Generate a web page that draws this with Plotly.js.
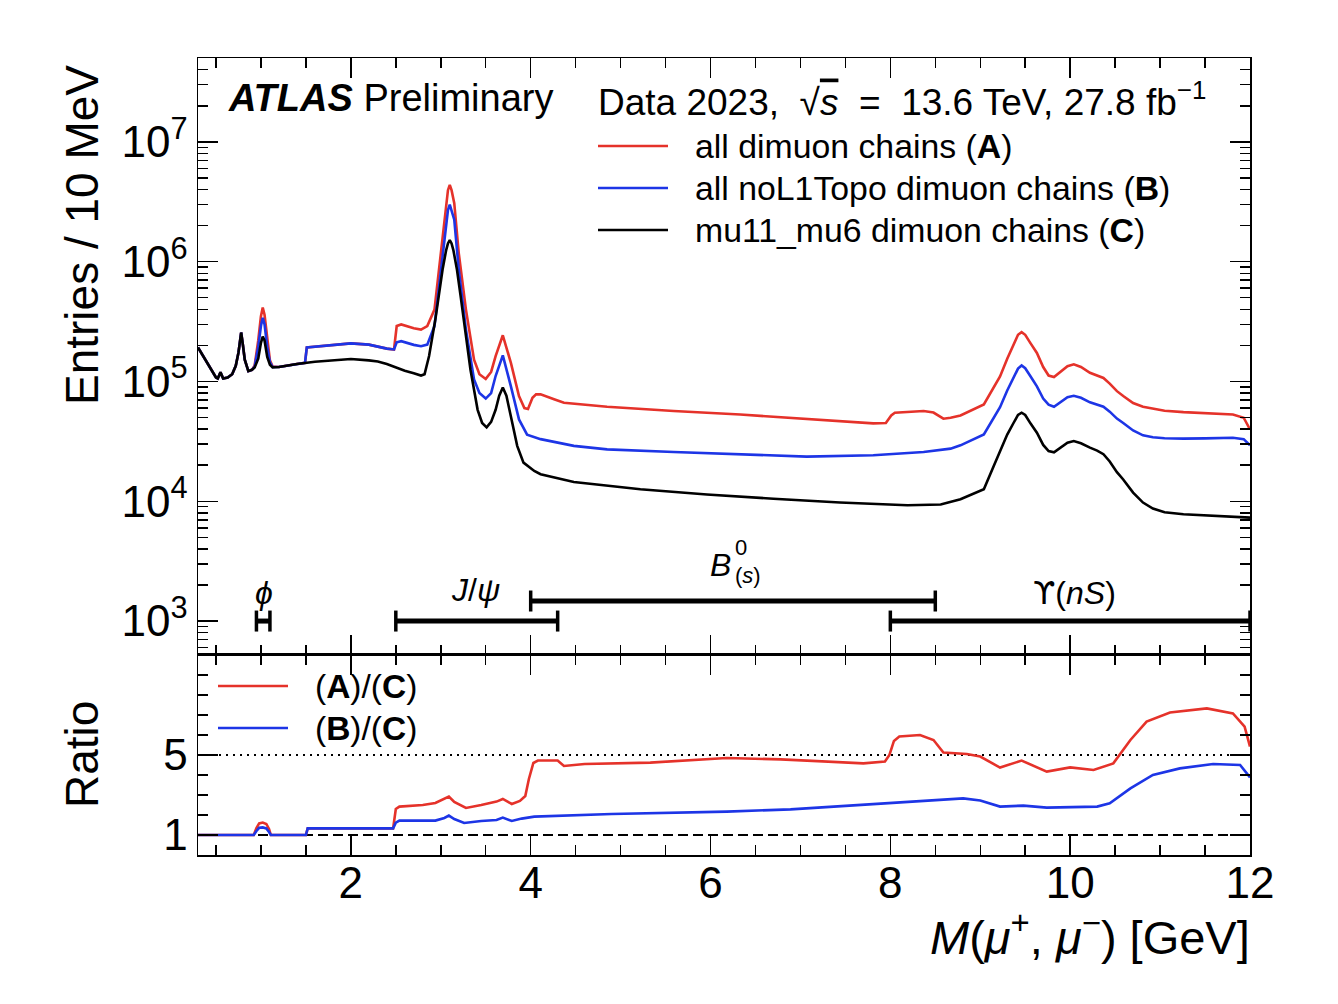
<!DOCTYPE html>
<html>
<head>
<meta charset="utf-8">
<script src="https://cdn.plot.ly/plotly-3.0.1.min.js"></script>
<style>
  html, body { margin: 0; padding: 0; background: #fff; }
  #chart { width: 1338px; height: 1004px; }
</style>
</head>
<body>
<div id="chart"></div>
<script>
// ###################### DATA ######################

// (C) mu11_mu6 dimuon chains
const massC = [0.30, 0.37, 0.41, 0.45, 0.50, 0.52, 0.55, 0.58, 0.63, 0.68, 0.72, 0.75, 0.78, 0.80, 0.82, 0.86, 0.90,
    0.93, 0.97, 1.00, 1.02, 1.04, 1.07, 1.10, 1.13, 1.20, 1.40, 1.60, 1.80, 2.00, 2.20, 2.30, 2.40, 2.50, 2.60, 2.70,
    2.78, 2.82, 2.87, 2.94, 2.98, 3.02, 3.06, 3.08, 3.10, 3.12, 3.14, 3.18, 3.22, 3.26, 3.33, 3.41, 3.46, 3.51, 3.56,
    3.61, 3.65, 3.69, 3.73, 3.78, 3.85, 3.92, 4.04, 4.11, 4.48, 5.22, 5.96, 6.70, 7.44, 8.19, 8.56, 8.78, 9.04, 9.15,
    9.22, 9.30, 9.37, 9.42, 9.46, 9.50, 9.56, 9.63, 9.70, 9.76, 9.82, 9.90, 9.97, 10.04, 10.12, 10.22, 10.30, 10.37,
    10.44, 10.52, 10.59, 10.70, 10.81, 10.92, 11.05, 11.26, 11.50, 11.81, 12.00];
const entriesC = [1.92e5, 1.57e5, 1.39e5, 1.22e5, 1.08e5, 1.06e5, 1.19e5, 1.06e5, 1.08e5, 1.15e5, 1.35e5, 1.74e5, 2.56e5, 2.0e5, 1.52e5, 1.22e5, 1.25e5,
    1.31e5, 1.55e5, 2.1e5, 2.37e5, 2.2e5, 1.6e5, 1.38e5, 1.31e5, 1.32e5, 1.40e5, 1.46e5, 1.51e5, 1.54e5, 1.50e5, 1.47e5, 1.40e5, 1.31e5, 1.23e5, 1.17e5,
    1.12e5, 1.15e5, 1.63e5, 3.3e5, 5.6e5, 8.6e5, 1.25e6, 1.42e6, 1.51e6, 1.42e6, 1.25e6, 8.6e5, 5.2e5, 3.08e5, 1.26e5, 5.8e4, 4.5e4, 4.14e4, 4.6e4,
    5.8e4, 7.6e4, 8.9e4, 7.6e4, 5.1e4, 2.9e4, 2.1e4, 1.79e4, 1.68e4, 1.45e4, 1.26e4, 1.14e4, 1.05e4, 9.75e3, 9.26e3, 9.4e3, 1.04e4, 1.26e4, 1.97e4,
    2.6e4, 3.6e4, 4.5e4, 5.25e4, 5.48e4, 5.25e4, 4.45e4, 3.73e4, 2.95e4, 2.62e4, 2.56e4, 2.8e4, 3.08e4, 3.18e4, 3.05e4, 2.8e4, 2.65e4, 2.47e4,
    2.15e4, 1.75e4, 1.52e4, 1.18e4, 9.75e3, 8.7e3, 8.1e3, 7.8e3, 7.6e3, 7.45e3, 7.3e3];

// (A) all dimuon chains
const massA = [0.30, 0.37, 0.41, 0.45, 0.50, 0.52, 0.55, 0.58, 0.63, 0.68, 0.72, 0.75, 0.78, 0.80, 0.82, 0.86, 0.90,
    0.93, 0.97, 1.00, 1.02, 1.04, 1.07, 1.10, 1.13, 1.20, 1.40, 1.49, 1.51, 1.60, 1.80, 2.00, 2.20, 2.30, 2.40, 2.48,
    2.51, 2.56, 2.70, 2.78, 2.85, 2.93, 3.00, 3.06, 3.08, 3.10, 3.12, 3.15, 3.20, 3.28, 3.37, 3.43, 3.50, 3.56, 3.61,
    3.69, 3.78, 3.87, 3.93, 3.97, 4.02, 4.06, 4.11, 4.26, 4.37, 4.85, 5.59, 6.33, 7.07, 7.81, 7.95, 8.01, 8.05, 8.37,
    8.48, 8.59, 8.67, 8.78, 9.04, 9.15, 9.22, 9.30, 9.37, 9.42, 9.46, 9.50, 9.56, 9.63, 9.70, 9.76, 9.82, 9.90, 9.97,
    10.04, 10.12, 10.22, 10.30, 10.37, 10.44, 10.52, 10.59, 10.70, 10.81, 10.92, 11.05, 11.26, 11.50, 11.81, 11.93, 12.00];
const entriesA = [1.92e5, 1.57e5, 1.39e5, 1.22e5, 1.08e5, 1.06e5, 1.19e5, 1.06e5, 1.08e5, 1.15e5, 1.35e5, 1.74e5, 2.56e5, 2.0e5, 1.52e5, 1.22e5, 1.25e5,
    1.36e5, 2.2e5, 3.5e5, 4.14e5, 3.6e5, 2.2e5, 1.5e5, 1.33e5, 1.32e5, 1.40e5, 1.43e5, 1.92e5, 1.95e5, 2.0e5, 2.08e5, 2.03e5, 1.95e5, 1.88e5, 1.85e5,
    2.9e5, 2.99e5, 2.78e5, 2.71e5, 2.9e5, 3.98e5, 1.18e6, 3.08e6, 3.95e6, 4.38e6, 3.95e6, 3.08e6, 1.18e6, 3.98e5, 1.52e5, 1.15e5, 1.05e5, 1.2e5, 1.63e5,
    2.43e5, 1.43e5, 7.55e4, 6.0e4, 5.9e4, 7.3e4, 7.8e4, 7.8e4, 7.1e4, 6.64e4, 6.15e4, 5.66e4, 5.3e4, 4.89e4, 4.47e4, 4.5e4, 5.2e4, 5.48e4, 5.66e4,
    5.5e4, 4.89e4, 4.98e4, 5.2e4, 6.42e4, 8.8e4, 1.1e5, 1.55e5, 2.05e5, 2.45e5, 2.58e5, 2.45e5, 2.08e5, 1.73e5, 1.32e5, 1.12e5, 1.09e5, 1.22e5, 1.34e5,
    1.39e5, 1.32e5, 1.18e5, 1.12e5, 1.07e5, 9.6e4, 8.3e4, 7.55e4, 6.6e4, 6.15e4, 5.9e4, 5.7e4, 5.55e4, 5.45e4, 5.3e4, 4.98e4, 3.98e4];

// (B) all noL1Topo dimuon chains
const massB = [0.30, 0.37, 0.41, 0.45, 0.50, 0.52, 0.55, 0.58, 0.63, 0.68, 0.72, 0.75, 0.78, 0.80, 0.82, 0.86, 0.90,
    0.93, 0.97, 1.00, 1.02, 1.04, 1.07, 1.10, 1.13, 1.20, 1.40, 1.49, 1.51, 1.60, 1.80, 2.00, 2.20, 2.30, 2.40, 2.48,
    2.51, 2.56, 2.70, 2.78, 2.85, 2.93, 3.00, 3.06, 3.08, 3.10, 3.12, 3.15, 3.20, 3.28, 3.37, 3.43, 3.50, 3.56, 3.61,
    3.69, 3.78, 3.87, 3.96, 4.11, 4.48, 4.85, 5.59, 6.33, 7.07, 7.81, 8.37, 8.67, 8.78, 9.04, 9.15, 9.22, 9.30, 9.37,
    9.42, 9.46, 9.50, 9.56, 9.63, 9.70, 9.76, 9.82, 9.90, 9.97, 10.04, 10.12, 10.22, 10.30, 10.37, 10.44, 10.52, 10.59,
    10.70, 10.81, 10.92, 11.05, 11.26, 11.50, 11.81, 11.93, 12.00];
const entriesB = [1.92e5, 1.57e5, 1.39e5, 1.22e5, 1.08e5, 1.06e5, 1.19e5, 1.06e5, 1.08e5, 1.15e5, 1.35e5, 1.74e5, 2.56e5, 2.0e5, 1.52e5, 1.22e5, 1.25e5,
    1.33e5, 1.95e5, 2.9e5, 3.4e5, 3.0e5, 1.95e5, 1.45e5, 1.32e5, 1.32e5, 1.40e5, 1.43e5, 1.92e5, 1.95e5, 2.0e5, 2.08e5, 2.03e5, 1.95e5, 1.88e5, 1.85e5,
    2.12e5, 2.17e5, 2.02e5, 1.97e5, 2.03e5, 2.9e5, 8.6e5, 2.24e6, 2.7e6, 2.99e6, 2.7e6, 2.24e6, 8.6e5, 2.71e5, 1.04e5, 8.0e4, 7.2e4, 8.0e4, 1.11e5,
    1.65e5, 9.1e4, 4.82e4, 3.6e4, 3.3e4, 2.9e4, 2.71e4, 2.58e4, 2.47e4, 2.36e4, 2.42e4, 2.58e4, 2.75e4, 2.93e4, 3.61e4, 4.9e4, 6.1e4, 8.4e4, 1.08e5,
    1.28e5, 1.36e5, 1.29e5, 1.1e5, 9.1e4, 7.2e4, 6.4e4, 6.15e4, 6.8e4, 7.4e4, 7.6e4, 7.3e4, 6.7e4, 6.45e4, 6.15e4, 5.6e4, 4.9e4, 4.5e4,
    3.9e4, 3.55e4, 3.42e4, 3.36e4, 3.33e4, 3.35e4, 3.39e4, 3.3e4, 2.93e4];

// ratio (A)/(C)
const massRatioA = [0.30, 0.92, 0.95, 0.98, 1.02, 1.06, 1.09, 1.11, 1.50, 1.52, 2.47, 2.50, 2.54, 2.80, 2.94, 3.04, 3.09,
    3.15, 3.28, 3.45, 3.62, 3.69, 3.79, 3.88, 3.94, 3.98, 4.03, 4.08, 4.30, 4.37, 4.60, 5.33, 6.18, 6.78, 7.70, 7.94,
    7.99, 8.04, 8.10, 8.33, 8.48, 8.59, 8.85, 9.00, 9.22, 9.46, 9.74, 10.00, 10.26, 10.48, 10.67, 10.85, 11.11, 11.52,
    11.81, 11.94, 12.00];
const ratioAC = [1.0, 1.0, 1.35, 1.58, 1.62, 1.55, 1.3, 1.0, 1.0, 1.33, 1.33, 2.3, 2.42, 2.5, 2.6, 2.8, 2.92,
    2.65, 2.35, 2.5, 2.67, 2.8, 2.55, 2.7, 2.95, 3.8, 4.6, 4.72, 4.72, 4.45, 4.55, 4.62, 4.85, 4.78, 4.58, 4.67,
    5.0, 5.7, 5.92, 6.0, 5.75, 5.12, 5.05, 4.92, 4.37, 4.72, 4.17, 4.38, 4.25, 4.58, 5.75, 6.67, 7.12, 7.33,
    7.08, 6.42, 5.42];

// ratio (B)/(C)
const massRatioB = [0.30, 0.92, 0.95, 0.98, 1.02, 1.06, 1.09, 1.11, 1.50, 1.52, 2.47, 2.50, 2.54, 2.94, 3.04, 3.09, 3.15,
    3.26, 3.45, 3.62, 3.69, 3.79, 3.90, 4.04, 4.90, 6.18, 6.89, 7.89, 8.81, 9.00, 9.22, 9.48, 9.74, 10.30, 10.44, 10.67,
    10.92, 11.22, 11.59, 11.89, 12.00];
const ratioBC = [1.0, 1.0, 1.2, 1.36, 1.38, 1.33, 1.15, 1.0, 1.0, 1.33, 1.33, 1.62, 1.72, 1.72, 1.85, 1.97, 1.8,
    1.6, 1.7, 1.75, 1.87, 1.7, 1.82, 1.92, 2.05, 2.17, 2.28, 2.55, 2.83, 2.72, 2.42, 2.47, 2.37, 2.42, 2.58, 3.33,
    4.0, 4.33, 4.55, 4.5, 3.88];

// mass windows of the resonances
const windowLow = [0.95, 2.5, 4.0, 8.0];
const windowHigh = [1.1, 4.3, 8.5, 12.0];
const windowLevel = [1000, 1000, 1470, 1000];

const decadeVals = [1e3, 1e4, 1e5, 1e6, 1e7];
const decadeText = ["10<sup>3</sup>", "10<sup>4</sup>", "10<sup>5</sup>", "10<sup>6</sup>", "10<sup>7</sup>"];
const massTicks = [2, 4, 6, 8, 10, 12];
const ratioTicks = [1, 5];

// ###################### PLOT ######################

const FONT = "Liberation Sans, Arial, Helvetica, sans-serif";
const RED = "#e5322a";
const BLUE = "#1d35e6";
const BLACK = "#000000";

function drawDimuonPlot(){

    const plotData = [
        { x: massA, y: entriesA, xaxis: "x", yaxis: "y", mode: "lines", name: "A", line: { color: RED, width: 2.6 } },
        { x: massB, y: entriesB, xaxis: "x", yaxis: "y", mode: "lines", name: "B", line: { color: BLUE, width: 2.6 } },
        { x: massC, y: entriesC, xaxis: "x", yaxis: "y", mode: "lines", name: "C", line: { color: BLACK, width: 2.6 } },
        { x: massRatioA, y: ratioAC, xaxis: "x2", yaxis: "y2", mode: "lines", name: "A/C", line: { color: RED, width: 2.6 } },
        { x: massRatioB, y: ratioBC, xaxis: "x2", yaxis: "y2", mode: "lines", name: "B/C", line: { color: BLUE, width: 2.6 } },
    ];

    // mass windows drawn as bars with end caps
    for (let i = 0; i < windowLow.length; i++){
        plotData.push({
            x: [windowLow[i], windowHigh[i]], y: [windowLevel[i], windowLevel[i]],
            xaxis: "x", yaxis: "y", mode: "lines+markers",
            line: { color: BLACK, width: 5 },
            marker: { symbol: "line-ns", size: 15, color: BLACK, line: { color: BLACK, width: 3.5 } },
        });
    }

    const axisCommon = {
        showline: true, linecolor: BLACK, linewidth: 1.5, mirror: "allticks",
        ticks: "inside", tickcolor: BLACK, tickwidth: 1.5,
        showgrid: false, zeroline: false,
        tickfont: { family: FONT, size: 44, color: BLACK },
    };

    const xCommon = Object.assign({}, axisCommon, {
        range: [0.3, 12], tickmode: "array", tickvals: massTicks, ticklen: 20,
        minor: { ticks: "inside", ticklen: 10, tickwidth: 1.5, tickcolor: BLACK, tickmode: "linear", tick0: 0, dtick: 0.5 },
    });

    // annotation helper in paper coordinates from pixel positions
    const px = (p) => (p - 198) / 1052;
    const py = (p) => (855 - p) / 797;

    const txt = (text, x, y, size, opts) => Object.assign({
        text: text, x: x, y: y, xref: "paper", yref: "paper", showarrow: false,
        xanchor: "left", yanchor: "middle", font: { family: FONT, size: size, color: BLACK },
    }, opts || {});

    const dataTxt = (text, x, y, size, opts) => Object.assign({
        text: text, x: x, y: y, xref: "x", yref: "y", showarrow: false,
        font: { family: FONT, size: size, color: BLACK },
    }, opts || {});

    const annotations = [
        txt("<b><i>ATLAS</i></b> Preliminary", px(226), py(98), 38),
        txt("Data 2023,  √<span style='text-decoration:overline'><i>s</i></span>  =  13.6 TeV, 27.8 fb<sup>−1</sup>", px(596), py(100), 37),
        txt("all dimuon chains (<b>A</b>)", px(693), py(146), 33.8),
        txt("all noL1Topo dimuon chains (<b>B</b>)", px(693), py(188), 33.8),
        txt("mu11_mu6 dimuon chains (<b>C</b>)", px(693), py(230), 33.8),
        txt("(<b>A</b>)/(<b>C</b>)", px(313), py(686), 33.5),
        txt("(<b>B</b>)/(<b>C</b>)", px(313), py(728), 33.5),
        txt("Entries / 10 MeV", px(82), py(235), 46, { textangle: -90, xanchor: "center" }),
        txt("Ratio", px(82), py(755), 46, { textangle: -90, xanchor: "center" }),
        txt("<i>M</i>(<i>μ</i><sup>+</sup>, <i>μ</i><sup>−</sup>) [GeV]", 1.002, py(934), 47, { xanchor: "right" }),
        // resonance labels, in data coordinates (log10 for the y axis)
        dataTxt("<i>ϕ</i>", 1.03, 3.233, 32),
        dataTxt("<i>J</i>/<i>ψ</i>", 3.39, 3.258, 32),
        dataTxt("<i>B</i>", 6.11, 3.467, 32),
        dataTxt("0", 6.25, 3.61, 22, { xanchor: "left" }),
        dataTxt("(<i>s</i>)", 6.25, 3.38, 22, { xanchor: "left" }),
        dataTxt("<span style='font-family:DejaVu Sans'>ϒ</span>(<i>nS</i>)", 10.05, 3.233, 32),
    ];

    const legendLine = (x0, x1, y, color) => ({
        type: "line", xref: "paper", yref: "paper", x0: x0, x1: x1, y0: y, y1: y,
        line: { color: color, width: 2.6 },
    });

    const shapes = [
        legendLine(px(598), px(668), py(146), RED),
        legendLine(px(598), px(668), py(188), BLUE),
        legendLine(px(598), px(668), py(230), BLACK),
        legendLine(px(218), px(288), py(686), RED),
        legendLine(px(218), px(288), py(728), BLUE),
        // reference lines in the ratio panel
        { type: "line", xref: "x2 domain", yref: "y2", x0: 0, x1: 1, y0: 5, y1: 5, layer: "below",
          line: { color: BLACK, width: 2, dash: "2px,5px" } },
        { type: "line", xref: "x2 domain", yref: "y2", x0: 0, x1: 1, y0: 1, y1: 1, layer: "below",
          line: { color: BLACK, width: 2, dash: "10px,5px" } },
    ];

    const plotLayout = {
        width: 1338,
        height: 1004,
        paper_bgcolor: "#ffffff",
        plot_bgcolor: "#ffffff",
        font: { family: FONT, color: BLACK },
        margin: { t: 58, b: 149, l: 198, r: 88 },
        showlegend: false,
        xaxis: Object.assign({}, xCommon, { anchor: "y", domain: [0, 1], showticklabels: false }),
        yaxis: Object.assign({}, axisCommon, {
            anchor: "x", domain: [0.251, 1], type: "log", range: [2.717, 7.7],
            tickmode: "array", tickvals: decadeVals, ticktext: decadeText, ticklen: 20,
            minor: { ticks: "inside", ticklen: 10, tickwidth: 1.5, tickcolor: BLACK, dtick: "D1" },
        }),
        xaxis2: Object.assign({}, xCommon, { anchor: "y2", domain: [0, 1], matches: "x", ticklabelstandoff: -11 }),
        yaxis2: Object.assign({}, axisCommon, {
            anchor: "x2", domain: [0, 0.251], range: [0, 10],
            tickmode: "array", tickvals: ratioTicks, ticklen: 20,
            minor: { ticks: "inside", ticklen: 10, tickwidth: 1.5, tickcolor: BLACK, tickmode: "linear", tick0: 0, dtick: 1 },
        }),
        annotations: annotations,
        shapes: shapes,
    };

    const plotConfig = {
        staticPlot: true,
        responsive: false,
    };

    Plotly.newPlot("chart", plotData, plotLayout, plotConfig);
}

drawDimuonPlot();
</script>
</body>
</html>
